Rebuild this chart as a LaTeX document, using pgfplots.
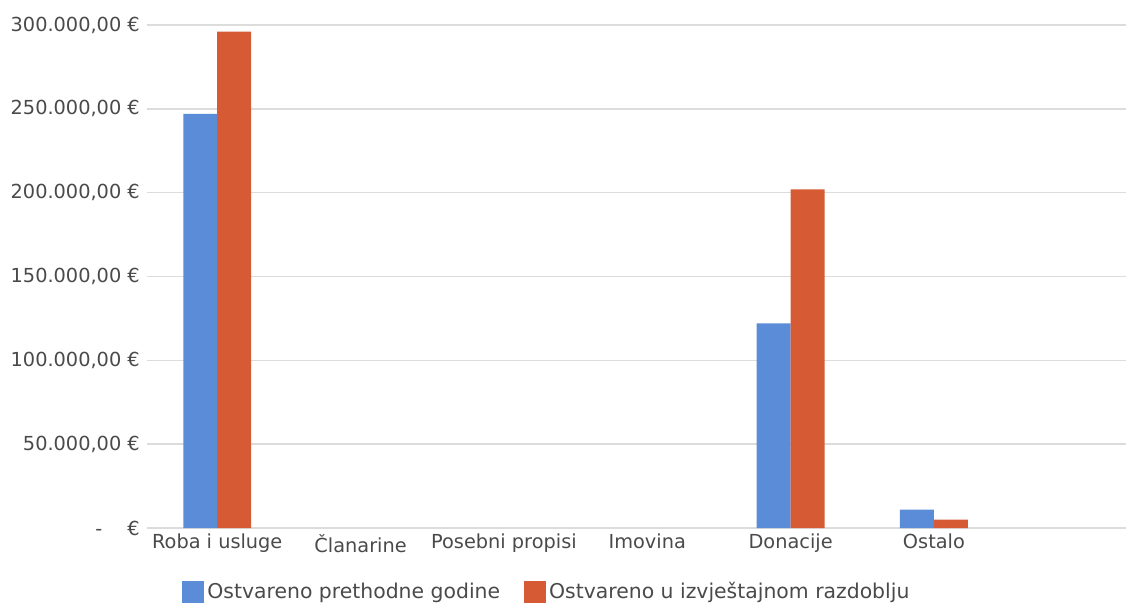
\documentclass[border=0pt]{standalone}
\usepackage{fontspec}
\setmainfont{DejaVu Sans}
\usepackage{pgfplots}
\pgfplotsset{compat=1.18}
\definecolor{prev}{HTML}{5B8CD7}
\definecolor{curr}{HTML}{D65A34}
\definecolor{txt}{HTML}{4A4A4A}
\definecolor{gridc}{HTML}{DCDCDC}

\begin{document}
\begin{tikzpicture}
\begin{axis}[
    name=ax,
    scale only axis,
    width=19.58cm, height=10.06cm,
    xmin=-0.49, xmax=6.34,
    ymin=0, ymax=300000,
    ybar=0pt, bar width=0.237,
    xtick={0,...,5},
    xticklabels={Roba i usluge, Članarine, Posebni propisi, Imovina, Donacije, Ostalo},
    ytick={0,50000,100000,150000,200000,250000,300000},
    yticklabels={{-\hspace{1.3em}€},{50.000,00 €},{100.000,00 €},{150.000,00 €},{200.000,00 €},{250.000,00 €},{300.000,00 €}},
    scaled y ticks=false,
    major tick length=0pt,
    axis line style={draw=none},
    ymajorgrids,
    grid style={gridc, line width=0.8pt},
    tick label style={font=\fontsize{11}{13}\selectfont, text=txt},
    yticklabel style={xshift=-0.02cm},
    legend style={at={(0.409,-0.127)}, anchor=center, draw=none, fill=none,
        legend columns=2, font=\fontsize{11.6}{14}\selectfont, text=txt,
        /tikz/every even column/.append style={column sep=0.4cm}},
    legend image code/.code={\draw[#1,draw=none] (0cm,-0.22cm) rectangle (0.44cm,0.22cm);},
]
\addplot[fill=prev, draw=none] coordinates {
    (0, 247000) (4, 122000) (5, 11000)
};
\addlegendentry{Ostvareno prethodne godine}
\addplot[fill=curr, draw=none] coordinates {
    (0, 296000) (4, 202000) (5, 5000)
};
\addlegendentry{Ostvareno u izvještajnom razdoblju}
\end{axis}
\pgfresetboundingbox
\path ([xshift=-2.94cm,yshift=-1.62cm]ax.south west) rectangle ([yshift=0.5cm]ax.north east);
\end{tikzpicture}
\end{document}
